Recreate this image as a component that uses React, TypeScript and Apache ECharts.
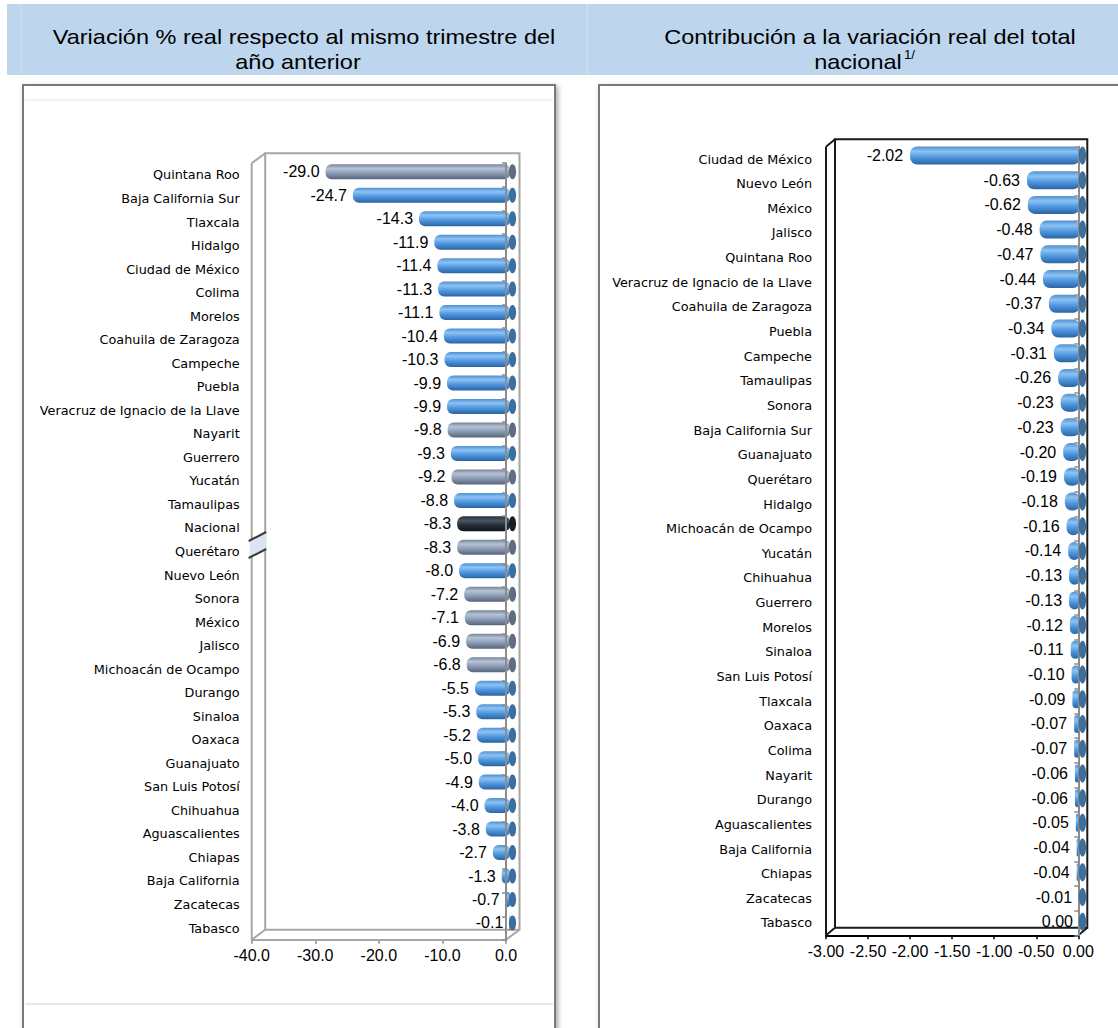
import React, { useEffect, useRef } from "react";
import * as echarts from "echarts";

// ---------- DATA ----------
const LEFT_CATEGORIES = [
  "Quintana Roo", "Baja California Sur", "Tlaxcala", "Hidalgo", "Ciudad de México", "Colima",
  "Morelos", "Coahuila de Zaragoza", "Campeche", "Puebla", "Veracruz de Ignacio de la Llave",
  "Nayarit", "Guerrero", "Yucatán", "Tamaulipas", "Nacional", "Querétaro", "Nuevo León",
  "Sonora", "México", "Jalisco", "Michoacán de Ocampo", "Durango", "Sinaloa", "Oaxaca",
  "Guanajuato", "San Luis Potosí", "Chihuahua", "Aguascalientes", "Chiapas", "Baja California",
  "Zacatecas", "Tabasco",
];
const LEFT_VALUES = [
  -29.0, -24.7, -14.3, -11.9, -11.4, -11.3, -11.1, -10.4, -10.3, -9.9, -9.9, -9.8, -9.3, -9.2,
  -8.8, -8.3, -8.3, -8.0, -7.2, -7.1, -6.9, -6.8, -5.5, -5.3, -5.2, -5.0, -4.9, -4.0, -3.8,
  -2.7, -1.3, -0.7, -0.1,
];
const LEFT_GRAY_STATES = [
  "Quintana Roo", "Nayarit", "Yucatán", "Querétaro", "Sonora", "México", "Jalisco", "Michoacán de Ocampo",
];
const LEFT_DARK_STATES = ["Nacional"];

const RIGHT_CATEGORIES = [
  "Ciudad de México", "Nuevo León", "México", "Jalisco", "Quintana Roo",
  "Veracruz de Ignacio de la Llave", "Coahuila de Zaragoza", "Puebla", "Campeche", "Tamaulipas",
  "Sonora", "Baja California Sur", "Guanajuato", "Querétaro", "Hidalgo", "Michoacán de Ocampo",
  "Yucatán", "Chihuahua", "Guerrero", "Morelos", "Sinaloa", "San Luis Potosí", "Tlaxcala",
  "Oaxaca", "Colima", "Nayarit", "Durango", "Aguascalientes", "Baja California", "Chiapas",
  "Zacatecas", "Tabasco",
];
const RIGHT_VALUES = [
  -2.02, -0.63, -0.62, -0.48, -0.47, -0.44, -0.37, -0.34, -0.31, -0.26, -0.23, -0.23, -0.20,
  -0.19, -0.18, -0.16, -0.14, -0.13, -0.13, -0.12, -0.11, -0.10, -0.09, -0.07, -0.07, -0.06,
  -0.06, -0.05, -0.04, -0.04, -0.01, 0.0,
];

const LEFT_X_TICKS = [-40, -30, -20, -10, 0];
const RIGHT_X_TICKS = [-3, -2.5, -2, -1.5, -1, -0.5, 0];

const LEFT_TITLE = ["Variación % real respecto al mismo trimestre del", "año anterior"];
const RIGHT_TITLE = ["Contribución a la variación real del total", "nacional", "1/"];

// ---------- LAYOUT ----------
const LF = { left: 251.7, top: 163.2, right: 506, bottom: 939.8 }; // left front plane
const LB = { left: 255.6, top: 160, right: 510, bottom: 934.7 }; // left bar plane
const LD = { dx: 13.5, dy: -10 };
const RF = { left: 826, top: 146.7, right: 1078.3, bottom: 935.3 };
const RB = { left: 827.7, top: 143.1, right: 1080, bottom: 934.1 };
const RD = { dx: 9, dy: -7.5 };
const W = 1118;
const H = 1028;

function grid(p: { left: number; top: number; right: number; bottom: number }) {
  return { left: p.left, top: p.top, width: p.right - p.left, height: p.bottom - p.top, containLabel: false };
}

const grad = (stops: string[]) =>
  new echarts.graphic.LinearGradient(0, 0, 0, 1, [
    { offset: 0, color: stops[0] },
    { offset: 0.28, color: stops[1] },
    { offset: 0.6, color: stops[2] },
    { offset: 1, color: stops[3] },
  ]);

const FILLS = [
  ["#4f8fd2", "#8cc3f3", "#4f96df", "#2b64a3"],
  ["#75849c", "#b6c3d5", "#8c9cb5", "#56647b"],
  ["#28313c", "#4a5561", "#232c36", "#0f151b"],
];
const CAPS = ["#3a6f9f", "#5f6c82", "#181e25"];

function leftGroup(i: number) {
  const n = LEFT_CATEGORIES[i];
  if (LEFT_DARK_STATES.includes(n)) return 2;
  if (LEFT_GRAY_STATES.includes(n)) return 1;
  return 0;
}

function frame(F: any, D: any, color: string) {
  const bx0 = F.left + D.dx, bx1 = F.right + D.dx, by0 = F.top + D.dy, by1 = F.bottom + D.dy;
  const ls = { stroke: color, lineWidth: 2, fill: null };
  return [
    { type: "polyline", z: 1, shape: { points: [[bx0, by1], [bx0, by0], [bx1, by0], [bx1, by1], [bx0, by1]] }, style: ls },
    { type: "line", z: 1, shape: { x1: F.left, y1: F.top, x2: F.left, y2: F.bottom }, style: ls },
    { type: "line", z: 1, shape: { x1: F.left, y1: F.top, x2: bx0, y2: by0 }, style: ls },
    { type: "line", z: 1, shape: { x1: F.left, y1: F.bottom, x2: bx0, y2: by1 }, style: ls },
    { type: "line", z: 1, shape: { x1: F.right, y1: F.bottom, x2: bx1, y2: by1 }, style: ls },
  ];
}

const titleFont = { fontFamily: "Liberation Sans, Arial, sans-serif", fontSize: 21, fill: "#000" };

export default function App() {
  const ref = useRef<HTMLDivElement>(null);
  useEffect(() => {
    const chart = echarts.init(ref.current!, null, { renderer: "svg" });

    const catLabel = {
      fontFamily: "DejaVu Sans, sans-serif",
      fontSize: 12.8,
      color: "#000",
    };
    const valLabelStyle = {
      fontFamily: "Liberation Sans, Arial, sans-serif",
      fontSize: 16,
      color: "#000",
    };

    const capSeries = (xi: number, yi: number, values: number[], groups: number[], bw: number) => ({
      type: "custom",
      xAxisIndex: xi,
      yAxisIndex: yi,
      z: 4,
      silent: true,
      clip: false,
      encode: { x: 0, y: 1 },
      data: values.map((_, i) => [0, i, groups[i]]),
      renderItem: (_p: any, api: any) => {
        const pt = api.coord([0, api.value(1)]);
        const g = api.value(2);
        return {
          type: "ellipse",
          shape: { cx: pt[0] + 2.5, cy: pt[1], rx: 3.5, ry: bw / 2 },
          style: { fill: CAPS[g], stroke: "rgba(0,0,0,0.15)", lineWidth: 0.5 },
        };
      },
    });

    const leftGroups = LEFT_VALUES.map((_, i) => leftGroup(i));
    const rightGroups = RIGHT_VALUES.map(() => 0);

    const hiddenX = (gi: number, ticks: number[]) => ({
      type: "value", gridIndex: gi, min: ticks[0], max: ticks[ticks.length - 1], show: false,
    });
    const hiddenY = (gi: number, cats: string[]) => ({
      type: "category", gridIndex: gi, data: cats, inverse: true, show: false,
    });

    const option: any = {
      animation: false,
      backgroundColor: "#ffffff",
      grid: [grid(LF), grid(LB), grid(RF), grid(RB)],
      xAxis: [
        {
          type: "value", gridIndex: 0, min: LEFT_X_TICKS[0], max: LEFT_X_TICKS[LEFT_X_TICKS.length - 1],
          interval: LEFT_X_TICKS[1] - LEFT_X_TICKS[0],
          axisLine: { show: true, onZero: false, lineStyle: { color: "#a6a6a6", width: 2 } },
          axisTick: { show: true, length: 4, lineStyle: { color: "#a6a6a6", width: 2 } },
          axisLabel: { ...valLabelStyle, margin: 8, formatter: (v: number) => v.toFixed(1) },
          splitLine: { show: false },
        },
        hiddenX(1, LEFT_X_TICKS),
        {
          type: "value", gridIndex: 2, min: RIGHT_X_TICKS[0], max: RIGHT_X_TICKS[RIGHT_X_TICKS.length - 1],
          interval: RIGHT_X_TICKS[1] - RIGHT_X_TICKS[0],
          axisLine: { show: true, onZero: false, lineStyle: { color: "#000", width: 2 } },
          axisTick: { show: true, length: 4, lineStyle: { color: "#000", width: 1.5 } },
          axisLabel: { ...valLabelStyle, margin: 8, formatter: (v: number) => v.toFixed(2) },
          splitLine: { show: false },
        },
        hiddenX(3, RIGHT_X_TICKS),
      ],
      yAxis: [
        {
          type: "category", gridIndex: 0, data: LEFT_CATEGORIES, inverse: true, position: "left",
          axisLine: { show: false, onZero: false }, axisTick: { show: false },
          axisLabel: { ...catLabel, margin: 12 },
        },
        {
          type: "category", gridIndex: 0, data: LEFT_CATEGORIES, inverse: true, position: "right", z: 3,
          axisLine: { show: true, onZero: false, lineStyle: { color: "#8c8c8c", width: 2 } },
          axisTick: { show: true, inside: true, length: 4, lineStyle: { color: "#8c8c8c", width: 1.5 } },
          axisLabel: { show: false },
        },
        hiddenY(1, LEFT_CATEGORIES),
        {
          type: "category", gridIndex: 2, data: RIGHT_CATEGORIES, inverse: true, position: "left",
          axisLine: { show: false, onZero: false }, axisTick: { show: false },
          axisLabel: { ...catLabel, margin: 14 },
        },
        {
          type: "category", gridIndex: 2, data: RIGHT_CATEGORIES, inverse: true, position: "right", z: 3,
          axisLine: { show: true, onZero: false, lineStyle: { color: "#8c8c8c", width: 2 } },
          axisTick: { show: true, inside: true, length: 4, lineStyle: { color: "#8c8c8c", width: 1.5 } },
          axisLabel: { show: false },
        },
        hiddenY(3, RIGHT_CATEGORIES),
      ],
      series: [
        {
          type: "bar", xAxisIndex: 1, yAxisIndex: 2, barWidth: 15, z: 2,
          data: LEFT_VALUES.map((v, i) => ({ value: v, itemStyle: { color: grad(FILLS[leftGroups[i]]) } })),
          itemStyle: { borderRadius: 6 },
          label: {
            show: true, position: "left", distance: 6, ...valLabelStyle,
            formatter: (p: any) => Number(p.value).toFixed(1),
          },
        },
        capSeries(1, 2, LEFT_VALUES, leftGroups, 15),
        {
          type: "bar", xAxisIndex: 3, yAxisIndex: 5, barWidth: 18, z: 2,
          data: RIGHT_VALUES.map((v, i) => ({ value: v, itemStyle: { color: grad(FILLS[rightGroups[i]]) } })),
          itemStyle: { borderRadius: 7 },
          label: {
            show: true, position: "left", distance: 7, ...valLabelStyle,
            formatter: (p: any) => Number(p.value).toFixed(2),
          },
        },
        capSeries(3, 5, RIGHT_VALUES, rightGroups, 18),
      ],
      graphic: [
        // header band
        { type: "rect", z: -10, shape: { x: 7, y: 4, width: W - 7, height: 71 }, style: { fill: "#bdd6ee" } },
        { type: "line", z: -9, shape: { x1: 587, y1: 4, x2: 587, y2: 75 }, style: { stroke: "#d3e3f3", lineWidth: 1 } },
        { type: "line", z: -9, shape: { x1: 21, y1: 4, x2: 21, y2: 75 }, style: { stroke: "#cfe0f1", lineWidth: 1 } },
        // panels
        {
          type: "rect", z: -10, shape: { x: 23, y: 85, width: 532, height: 1000 },
          style: { fill: "#fff", stroke: "#7a7a7a", lineWidth: 2, shadowBlur: 5, shadowOffsetX: 2, shadowOffsetY: 2, shadowColor: "rgba(0,0,0,0.35)" },
        },
        { type: "line", z: -9, shape: { x1: 25, y1: 100, x2: 553, y2: 100 }, style: { stroke: "#e6e6e6", lineWidth: 1 } },
        { type: "line", z: -9, shape: { x1: 25, y1: 1004, x2: 553, y2: 1004 }, style: { stroke: "#d0d0d0", lineWidth: 1 } },
        {
          type: "rect", z: -10, shape: { x: 599, y: 85, width: 600, height: 1000 },
          style: { fill: "#fff", stroke: "#7a7a7a", lineWidth: 2, shadowBlur: 5, shadowOffsetX: 2, shadowOffsetY: 2, shadowColor: "rgba(0,0,0,0.35)" },
        },
        // titles
        { type: "text", z: 5, x: 304, y: 37, scaleX: 1.12, style: { ...titleFont, text: LEFT_TITLE[0], textAlign: "center", textVerticalAlign: "middle" } },
        { type: "text", z: 5, x: 298, y: 62, scaleX: 1.12, style: { ...titleFont, text: LEFT_TITLE[1], textAlign: "center", textVerticalAlign: "middle" } },
        { type: "text", z: 5, x: 870, y: 37, scaleX: 1.12, style: { ...titleFont, text: RIGHT_TITLE[0], textAlign: "center", textVerticalAlign: "middle" } },
        { type: "text", z: 5, x: 858, y: 62, scaleX: 1.12, style: { ...titleFont, text: RIGHT_TITLE[1], textAlign: "center", textVerticalAlign: "middle" } },
        { type: "text", z: 5, x: 904, y: 55, scaleX: 1.1, style: { ...titleFont, fontSize: 12, text: RIGHT_TITLE[2], textAlign: "left", textVerticalAlign: "middle" } },
        // 3D frames
        ...frame(LF, LD, "#a6a6a6"),
        ...frame(RF, RD, "#1a1a1a"),
        // axis break mark on the left wall
        {
          type: "polygon", z: 2,
          shape: { points: [[LF.left - 2, 540], [LF.left + LD.dx + 1, 532], [LF.left + LD.dx + 1, 549], [LF.left - 2, 557]] },
          style: { fill: "#dce4f4" },
        },
        { type: "line", z: 3, shape: { x1: LF.left - 3, y1: 541, x2: LF.left + LD.dx + 1, y2: 532 }, style: { stroke: "#3a3a3a", lineWidth: 2 } },
        { type: "line", z: 3, shape: { x1: LF.left - 3, y1: 558, x2: LF.left + LD.dx + 1, y2: 549 }, style: { stroke: "#3a3a3a", lineWidth: 2 } },
      ],
    };

    chart.setOption(option);
    return () => chart.dispose();
  }, []);

  return (
    <div
      ref={ref}
      style={{ position: "absolute", left: 0, top: 0, width: W, height: H, background: "#fff" }}
    />
  );
}
